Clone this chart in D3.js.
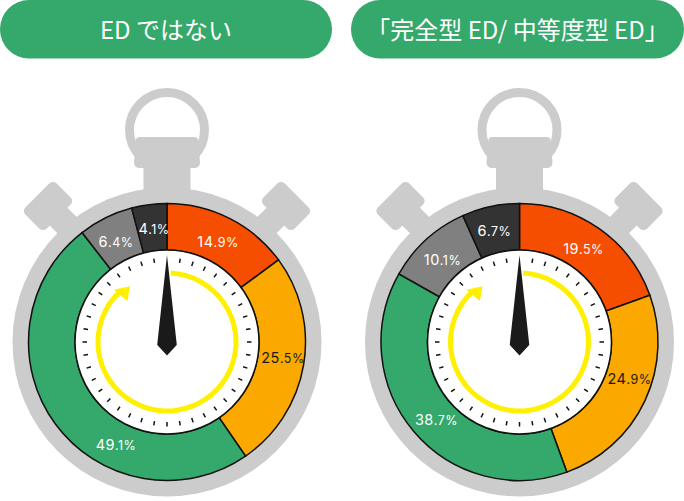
<!DOCTYPE html>
<html lang="ja">
<head>
  <meta charset="UTF-8">
  <title>ED stopwatch</title>
  <script src="https://d3js.org/d3.v7.min.js"></script>
  <style>
    html, body { margin: 0; padding: 0; background: #fff; }
    svg { display: block; }
    text { font-family: "Noto Sans CJK JP", sans-serif; }
  </style>
</head>
<body>
  <svg id="chart" width="684" height="501"></svg>
  <script>
    const titles = ["ED ではない", "「完全型 ED/ 中等度型 ED」"];
    const categories = ["a", "b", "c", "d", "e"];
    const valuesLeft = [14.9, 25.5, 49.1, 6.4, 4.1];
    const valuesRight = [19.5, 24.9, 38.7, 10.1, 6.7];
    const labelColors = ["#fff", "#1a1a1a", "#fff", "#fff", "#fff"];
    const colors = ["#F54E00", "#FBA900", "#35A86B", "#808080", "#333333"];

    // label centres, measured from the middle of each watch
    const labelOffsetsLeft = [[51, -100], [116, 16], [-51, 103], [-51, -100], [-13, -113]];
    const labelOffsetsRight = [[64, -93], [110, 37], [-83, 78], [-77, -82], [-25, -111]];

    const svg = d3.select("#chart");
    const green = colors[2];
    const gray = "#CCCCCC";
    const cy = 342;

    const color = d3.scaleOrdinal().domain(categories).range(colors);
    const pie = d3.pie().sort(null).value(d => d.value);
    const ringArc = d3.arc().innerRadius(92).outerRadius(138.5);
    const tickAngle = d3.scaleLinear().domain([0, 40]).range([0, 2 * Math.PI]);

    function polar(r, deg) {
      const a = deg * Math.PI / 180;
      return [r * Math.sin(a), -r * Math.cos(a)];
    }

    function drawPill(x, w, title) {
      svg.append("rect")
        .attr("x", x).attr("y", 0)
        .attr("width", w).attr("height", 58.5)
        .attr("rx", 29).attr("ry", 29)
        .attr("fill", green);
      svg.append("text")
        .attr("x", x + w / 2).attr("y", 39)
        .attr("text-anchor", "middle")
        .attr("font-size", 24)
        .attr("fill", "#fff")
        .text(title);
    }

    function drawBody(g) {
      // loop on top
      g.append("circle").attr("cy", -212).attr("r", 37.5)
        .attr("fill", "none").attr("stroke", gray).attr("stroke-width", 9);
      g.append("path")
        .attr("d", "M-31,-202 Q-31,-205 -27,-205 L27,-205 Q31,-205 31,-202 L33,-180 Q33,-174 27,-174 L23.5,-174 L23.5,-148 L-23.5,-148 L-23.5,-174 L-27,-174 Q-33,-174 -33,-180 Z")
        .attr("fill", gray);
      // side buttons
      [-1, 1].forEach(side => {
        const b = g.append("g")
          .attr("transform", `translate(${side * 119},${-136}) rotate(${side * 45})`);
        b.append("rect").attr("x", -22).attr("y", -15)
          .attr("width", 44).attr("height", 30).attr("rx", 5).attr("fill", gray);
        b.append("rect").attr("x", -12.5).attr("y", 10)
          .attr("width", 25).attr("height", 34).attr("fill", gray);
      });
      g.append("circle").attr("r", 154.5).attr("fill", gray);
    }

    function drawGauge(cx, values, offsets) {
      const g = svg.append("g").attr("transform", `translate(${cx},${cy})`);
      drawBody(g);

      const rows = categories.map((c, i) => ({ category: c, value: values[i] }));
      g.selectAll("path.slice")
        .data(pie(rows))
        .enter()
        .append("path")
        .attr("class", "slice")
        .attr("d", ringArc)
        .attr("fill", d => color(d.data.category))
        .attr("stroke", "#111")
        .attr("stroke-width", 1.5);

      g.append("circle").attr("r", 92)
        .attr("fill", "#fff").attr("stroke", "#111").attr("stroke-width", 1.5);

      g.selectAll("line.tick")
        .data(d3.range(1, 40))
        .enter()
        .append("line")
        .attr("class", "tick")
        .attr("x1", d => 80 * Math.sin(tickAngle(d)))
        .attr("y1", d => -80 * Math.cos(tickAngle(d)))
        .attr("x2", d => 84.5 * Math.sin(tickAngle(d)))
        .attr("y2", d => -84.5 * Math.cos(tickAngle(d)))
        .attr("stroke", "#111")
        .attr("stroke-width", 1.5);

      // yellow arrow
      g.append("path")
        .attr("d", d3.arc()({
          innerRadius: 66.5, outerRadius: 71.5,
          startAngle: 3 * Math.PI / 180, endAngle: 316 * Math.PI / 180
        }))
        .attr("fill", "#FFF000");
      g.append("polygon")
        .attr("points", [polar(74.5, -45.5), polar(67, -33.5), polar(57, -44)].join(" "))
        .attr("fill", "#FFF000");

      // needle
      g.append("path")
        .attr("d", "M0,-87 L9.7,2 L9.7,3 L0,13.5 L-9.7,3 L-9.7,2 Z")
        .attr("fill", "#1a1a1a");

      // labels, the decimals are set a bit smaller
      const label = g.selectAll("text.value")
        .data(values)
        .enter()
        .append("text")
        .attr("class", "value")
        .attr("x", (d, i) => offsets[i][0])
        .attr("y", (d, i) => offsets[i][1] + 5)
        .attr("text-anchor", "middle")
        .attr("letter-spacing", 0.5)
        .attr("fill", (d, i) => labelColors[i])
        .style("font-family", "Inter, sans-serif");
      label.append("tspan").attr("font-size", 14.5).text(d => Math.floor(d));
      label.append("tspan").attr("font-size", 12.5).text(d => "." + d.toFixed(1).split(".")[1] + "%");
    }

    drawPill(0, 332, titles[0]);
    drawPill(351, 333, titles[1]);
    drawGauge(167, valuesLeft, labelOffsetsLeft);
    drawGauge(519.5, valuesRight, labelOffsetsRight);
  </script>
</body>
</html>
